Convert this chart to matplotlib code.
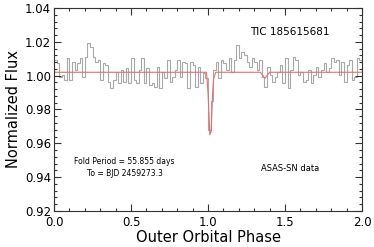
import numpy as np
import matplotlib
matplotlib.use("Agg")
import matplotlib.pyplot as plt
import matplotlib.ticker as ticker

## DATA ##
# binned ASAS-SN flux, 60 bins per outer orbit, phase 0 -> 2
N_BINS = 120
binned_flux = [
	1.0093, 1.0073, 0.9994, 1.0004, 0.9975, 1.0103, 0.9975, 1.0083, 1.0034, 1.0073,
	1.0103, 0.9994, 1.0112, 1.0191, 1.0171, 1.0112, 1.0083, 1.0093, 0.9975, 1.0073,
	1.0063, 0.9965, 0.9925, 0.9975, 1.0024, 0.9955, 1.0034, 0.9965, 1.0043, 0.9955,
	1.0103, 0.9975, 0.9955, 1.0034, 1.0103, 0.9955, 1.0043, 0.9945, 0.9955, 0.9935,
	1.0053, 0.9925, 1.0024, 0.9984, 1.0093, 0.9965, 0.9994, 1.0034, 1.0093, 0.9994,
	1.0083, 1.0073, 0.9925, 1.0083,
	1.0063, 0.9935, 1.0053, 0.9955, 1.0014, 0.9984,
	0.9680, 0.9850,
	1.0034, 1.0083, 0.9984, 1.0093, 1.0073, 1.0034, 1.0103, 1.0024, 1.0093, 1.0181,
	1.0103, 1.0142, 1.0122, 1.0083, 1.0053, 1.0103, 1.0083, 1.0034, 1.0093, 0.9994,
	0.9935, 1.0053, 1.0004, 0.9965, 0.9994, 1.0024, 1.0063, 0.9955, 1.0103, 0.9925,
	1.0034, 1.0112, 1.0093, 1.0004, 1.0024, 0.9965, 0.9975, 1.0034, 0.9955, 1.0004,
	1.0053, 0.9994, 1.0034, 1.0073, 1.0024, 1.0043, 1.0103, 1.0083, 1.0093, 1.0004,
	1.0083, 0.9965, 1.0063, 1.0093, 0.9975, 0.9994, 1.0103, 1.0093
]

# eclipse model
model_phase = [0.0, 0.990, 1.000, 1.012, 1.020, 1.030, 1.036, 1.050, 1.340, 1.370, 1.400, 2.0]
model_flux = [1.002, 1.002, 0.990, 0.965, 0.967, 0.990, 0.998, 1.002, 1.002, 0.9985, 1.002, 1.002]

TITLE = "TIC 185615681"
FOLD_TEXT = "Fold Period = 55.855 days\nTo = BJD 2459273.3"
SOURCE_TEXT = "ASAS-SN data"

GRAY = "#a8a8a8"
RED = "#e07070"

## PLOT ##
fig = plt.figure(figsize = (3.74, 2.47), dpi = 100)
ax = fig.add_axes([0.1444, 0.1457, 0.8236, 0.822])

edges = np.linspace(0.0, 2.0, N_BINS + 1)
ax.stairs(binned_flux, edges, color = GRAY, linewidth = 0.8)
ax.plot(model_phase, model_flux, color = RED, linewidth = 0.8)

ax.set_xlim(0.0, 2.0)
ax.set_ylim(0.92, 1.04)

ax.xaxis.set_major_locator(ticker.MultipleLocator(0.5))
ax.xaxis.set_minor_locator(ticker.MultipleLocator(0.1))
ax.yaxis.set_major_locator(ticker.MultipleLocator(0.02))
ax.yaxis.set_minor_locator(ticker.MultipleLocator(0.004))
ax.xaxis.set_major_formatter(ticker.FormatStrFormatter("%.1f"))
ax.yaxis.set_major_formatter(ticker.FormatStrFormatter("%.2f"))

ax.tick_params(which = "both", direction = "in", top = True, right = True,
	labelsize = 8.5, width = 0.8, color = "#333333")
ax.tick_params(axis = "x", pad = 3.5)
ax.tick_params(axis = "y", pad = 2)
ax.tick_params(which = "major", length = 5)
ax.tick_params(which = "minor", length = 2.5)
for spine in ax.spines.values():
	spine.set_linewidth(0.8)
	spine.set_color("#333333")

ax.set_xlabel("Outer Orbital Phase", fontsize = 10.5, labelpad = 1)
ax.set_ylabel("Normalized Flux", fontsize = 10.5, labelpad = 3)

ax.text(1.53, 1.0258, TITLE, fontsize = 7.5, ha = "center", va = "center")
ax.text(0.458, 0.9455, FOLD_TEXT, fontsize = 5.5, ha = "center", va = "center",
	linespacing = 1.4)
ax.text(1.53, 0.9454, SOURCE_TEXT, fontsize = 6, ha = "center", va = "center")

fig.savefig("out.png", dpi = 100)
